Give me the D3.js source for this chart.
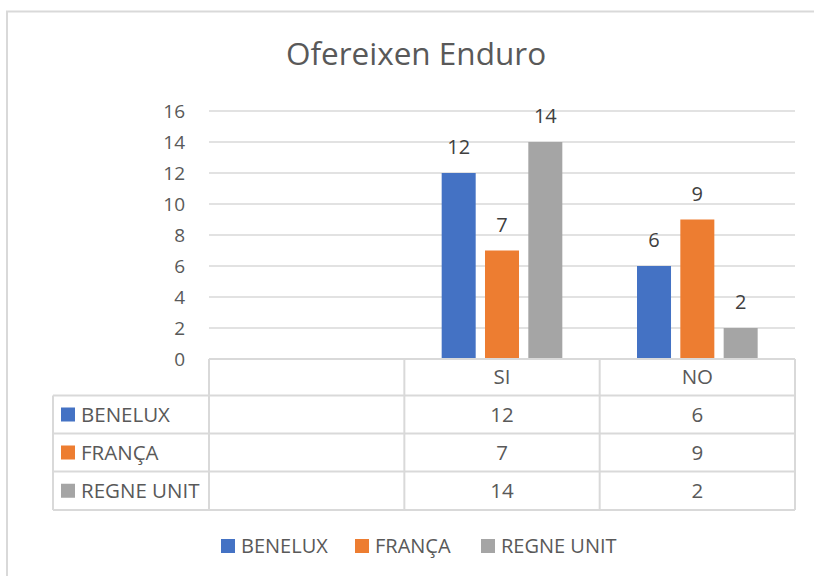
<!DOCTYPE html>
<html>
<head>
<meta charset="utf-8">
<script src="https://cdn.jsdelivr.net/npm/d3@7"></script>
<style>
  body { margin: 0; background: #fff; }
  svg { display: block; font-family: 'Open Sans', sans-serif; }
</style>
</head>
<body>
<svg width="814" height="576"></svg>
<script>
// data
const categories = ['', 'SI', 'NO'];
const seriesNames = ['BENELUX', 'FRANÇA', 'REGNE UNIT'];
const beneluxValues = [null, 12, 6];
const francaValues = [null, 7, 9];
const regneUnitValues = [null, 14, 2];
const colors = ['#4472C4', '#ED7D31', '#A5A5A5'];
const title = 'Ofereixen Enduro';

const series = seriesNames.map((name, i) => ({
  name: name,
  color: colors[i],
  values: [beneluxValues, francaValues, regneUnitValues][i]
}));

const TEXT = '#595959';
const GRID = '#D9D9D9';

const svg = d3.select('svg');

// outer chart border (runs off the picture on the right and bottom)
svg.append('rect')
  .attr('x', 7).attr('y', 11.5)
  .attr('width', 900).attr('height', 700)
  .attr('fill', '#fff')
  .attr('stroke', GRID)
  .attr('stroke-width', 2);

svg.append('text')
  .attr('x', 416).attr('y', 65)
  .attr('text-anchor', 'middle')
  .attr('fill', TEXT)
  .style('font-size', '31.5px')
  .text(title);

// scales
const plot = { left: 209, right: 795, top: 111, bottom: 359 };
const x0 = d3.scaleBand().domain(categories).range([plot.left, plot.right]);
const x1 = d3.scaleBand().domain(seriesNames)
  .range([0, x0.bandwidth()])
  .paddingInner(0.215)
  .paddingOuter(0.862);
const y = d3.scaleLinear().domain([0, 16]).range([plot.bottom, plot.top]);

// gridlines
svg.append('g')
  .selectAll('line')
  .data(y.ticks(8).filter(d => d > 0))
  .join('line')
    .attr('x1', plot.left).attr('x2', plot.right)
    .attr('y1', d => y(d)).attr('y2', d => y(d))
    .attr('stroke', GRID)
    .attr('stroke-width', 1.3);

// y axis labels
const yAxis = d3.axisLeft(y).ticks(8).tickSize(0).tickPadding(24);
const yg = svg.append('g')
  .attr('transform', `translate(${plot.left},0)`)
  .call(yAxis);
yg.select('.domain').remove();
yg.selectAll('text')
  .attr('fill', TEXT)
  .style('font-size', '19px')
  .style('font-family', "'Open Sans', sans-serif");

// bars
const groups = svg.append('g')
  .selectAll('g')
  .data(categories)
  .join('g')
    .attr('transform', d => `translate(${x0(d)},0)`);

groups.selectAll('rect')
  .data((c, ci) => series.filter(s => s.values[ci] != null).map(s => ({ s: s, v: s.values[ci] })))
  .join('rect')
    .attr('x', d => x1(d.s.name))
    .attr('width', x1.bandwidth())
    .attr('y', d => y(d.v))
    .attr('height', d => y(0) - y(d.v))
    .attr('fill', d => d.s.color);

groups.selectAll('text')
  .data((c, ci) => series.filter(s => s.values[ci] != null).map(s => ({ s: s, v: s.values[ci] })))
  .join('text')
    .attr('x', d => x1(d.s.name) + x1.bandwidth() / 2)
    .attr('y', d => y(d.v) - 19)
    .attr('text-anchor', 'middle')
    .attr('fill', '#404040')
    .style('font-size', '20px')
    .text(d => d.v);

// data table
const tableLeft = 53;
const rowY = [359, 395.5, 433.5, 471.5, 510];
const table = svg.append('g')
  .attr('stroke', GRID)
  .attr('stroke-width', 2);

// horizontal lines
table.append('line')
  .attr('x1', plot.left).attr('x2', plot.right)
  .attr('y1', rowY[0]).attr('y2', rowY[0]);
rowY.slice(1).forEach(ry => {
  table.append('line')
    .attr('x1', tableLeft).attr('x2', plot.right)
    .attr('y1', ry).attr('y2', ry);
});
// vertical lines
table.append('line')
  .attr('x1', tableLeft).attr('x2', tableLeft)
  .attr('y1', rowY[1]).attr('y2', rowY[4]);
categories.forEach(c => {
  table.append('line')
    .attr('x1', x0(c)).attr('x2', x0(c))
    .attr('y1', rowY[0]).attr('y2', rowY[4]);
});
table.append('line')
  .attr('x1', plot.right).attr('x2', plot.right)
  .attr('y1', rowY[0]).attr('y2', rowY[4]);

// header row
svg.append('g')
  .selectAll('text')
  .data(categories)
  .join('text')
    .attr('x', d => x0(d) + x0.bandwidth() / 2)
    .attr('y', (rowY[0] + rowY[1]) / 2)
    .attr('dy', '0.35em')
    .attr('text-anchor', 'middle')
    .attr('fill', TEXT)
    .style('font-size', '20.5px')
    .text(d => d);

// series rows
series.forEach((s, i) => {
  const cy = (rowY[i + 1] + rowY[i + 2]) / 2;
  svg.append('rect')
    .attr('x', 61).attr('y', cy - 7)
    .attr('width', 14).attr('height', 14)
    .attr('fill', s.color);
  svg.append('text')
    .attr('x', 81).attr('y', cy)
    .attr('dy', '0.35em')
    .attr('fill', TEXT)
    .style('font-size', '20.5px')
    .text(s.name);
  categories.forEach((c, ci) => {
    if (s.values[ci] == null) return;
    svg.append('text')
      .attr('x', x0(c) + x0.bandwidth() / 2)
      .attr('y', cy)
      .attr('dy', '0.35em')
      .attr('text-anchor', 'middle')
      .attr('fill', TEXT)
      .style('font-size', '20.5px')
      .text(s.values[ci]);
  });
});

// legend
const legendX = [221, 355, 481];
const legend = svg.append('g')
  .selectAll('g')
  .data(series)
  .join('g')
    .attr('transform', (d, i) => `translate(${legendX[i]},546)`);
legend.append('rect')
  .attr('x', 0).attr('y', -7)
  .attr('width', 14).attr('height', 14)
  .attr('fill', d => d.color);
legend.append('text')
  .attr('x', 20).attr('y', 0)
  .attr('dy', '0.35em')
  .attr('fill', TEXT)
  .style('font-size', '20px')
  .text(d => d.name);
</script>
</body>
</html>
